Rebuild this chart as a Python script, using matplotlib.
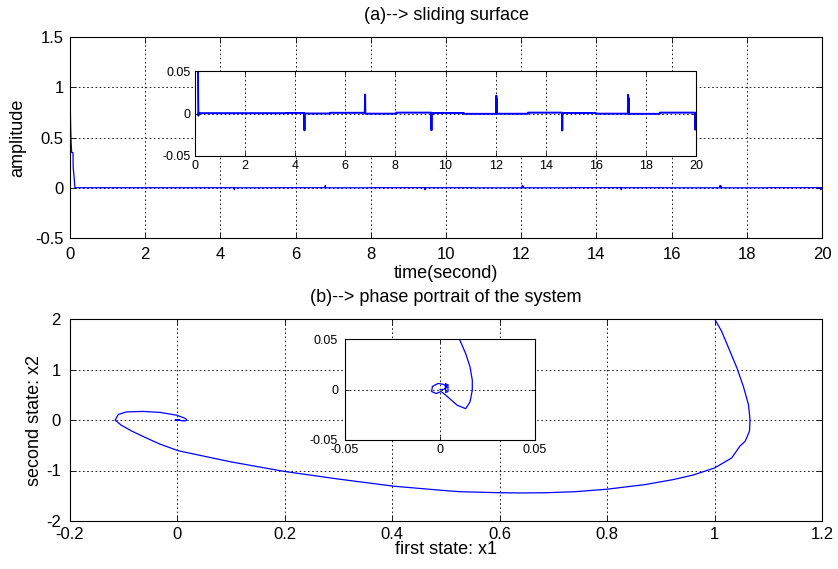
import matplotlib
matplotlib.use('Agg')
import matplotlib.pyplot as plt
from matplotlib.ticker import FuncFormatter

plt.rcParams['font.family'] = ['Liberation Sans', 'DejaVu Sans']
plt.rcParams['axes.unicode_minus'] = False

# ---- data: (a) sliding surface s(t) ----
t_s = [0.000, 0.005, 0.018, 0.030, 0.045, 0.080, 0.085, 0.110, 0.125, 0.135, 0.150,
       3.61, 3.62, 4.36, 4.37, 4.38, 5.39, 5.40, 6.78, 6.79, 6.80,
       8.03, 8.04, 9.43, 9.44, 9.45, 10.73, 10.74, 12.02, 12.03, 12.04, 12.05, 12.06,
       13.29, 13.30, 14.65, 14.66, 14.67, 15.99, 16.00, 17.28, 17.29, 17.30, 17.31, 17.32,
       18.55, 18.56, 19.96, 19.97, 19.98, 20.00]
s_vals = [1.29, 0.84, 0.60, 0.45, 0.35, 0.35, 0.20, 0.10, 0.02, -0.0025, 0.0004,
          0.0004, 0.0006, 0.0006, -0.0198, 0.0, 0.0, 0.0008, 0.0008, 0.0223, -0.0002,
          -0.0002, 0.0010, 0.0010, -0.0198, 0.0006, 0.0006, -0.0004, -0.0004, 0.021, 0.0, 0.017, -0.0003,
          -0.0003, 0.0010, 0.0010, -0.020, 0.0006, 0.0006, -0.0002, -0.0002, 0.022, 0.0, 0.018, -0.0004,
          -0.0004, 0.0010, 0.0010, -0.019, 0.0, 0.0]

# ---- data: (b) phase portrait x1 vs x2 ----
x1 = [1.000, 1.013, 1.026, 1.042, 1.054, 1.063, 1.066, 1.065, 1.057, 1.047, 1.032, 1.000,
      0.960, 0.923, 0.870, 0.800, 0.740, 0.687, 0.640, 0.600, 0.526, 0.489, 0.402, 0.300,
      0.200, 0.100, 0.002, -0.032, -0.057, -0.085, -0.105, -0.116, -0.110, -0.095, -0.064,
      -0.032, -0.001, 0.0102, 0.0135, 0.0158, 0.0170, 0.0170, 0.0158, 0.0135, 0.0090,
      0.0030, 0.0005, -0.0020, -0.0044, -0.0040, -0.0010, 0.0020, 0.0035, 0.0030, 0.0030,
      0.0042, 0.0042, 0.0020, 0.0]
x2 = [2.000, 1.76, 1.43, 1.02, 0.65, 0.31, 0.01, -0.22, -0.42, -0.52, -0.75, -0.95,
      -1.09, -1.18, -1.28, -1.37, -1.42, -1.44, -1.445, -1.44, -1.42, -1.39, -1.31, -1.17,
      -1.02, -0.83, -0.61, -0.48, -0.36, -0.22, -0.10, 0.0, 0.11, 0.16, 0.17,
      0.15, 0.094, 0.050, 0.0356, 0.0224, 0.0092, -0.0007, -0.0123, -0.0190, -0.0155,
      -0.0056, -0.0020, -0.0040, -0.0020, 0.0030, 0.0060, 0.0050, 0.0020, 0.0060, -0.0030,
      -0.0020, 0.0050, 0.0, 0.0]

# ---- tick values ----
a_xticks = [0, 2, 4, 6, 8, 10, 12, 14, 16, 18, 20]
a_yticks = [-0.5, 0, 0.5, 1, 1.5]
a_in_yticks = [-0.05, 0, 0.05]
b_xticks = [-0.2, 0, 0.2, 0.4, 0.6, 0.8, 1, 1.2]
b_yticks = [-2, -1, 0, 1, 2]
b_in_ticks = [-0.05, 0, 0.05]

W, H = 838, 569
fig = plt.figure(figsize=(W / 100, H / 100), dpi=100)


def rect(x0, y0, x1_, y1_):
    return [x0 / W, 1 - y1_ / H, (x1_ - x0) / W, (y1_ - y0) / H]


fmt = FuncFormatter(lambda v, p: ('%g' % round(v, 6)))


def style(ax, xt, yt, fs, xpad, ypad, tl=4):
    ax.set_xticks(xt)
    ax.set_yticks(yt)
    ax.xaxis.set_major_formatter(fmt)
    ax.yaxis.set_major_formatter(fmt)
    ax.tick_params(direction='in', top=True, right=True, length=tl, width=0.6,
                   labelsize=fs, colors='k')
    ax.tick_params(axis='x', pad=xpad)
    ax.tick_params(axis='y', pad=ypad)
    ax.grid(True, color='k', linestyle=(0, (2, 3)), linewidth=0.6)
    for sp in ax.spines.values():
        sp.set_linewidth(0.8)
        sp.set_color('k')


blue = '#0000ff'

# (a) main
axA = fig.add_axes(rect(70, 37, 822, 238))
axA.plot(t_s, s_vals, color=blue, lw=0.9)
axA.set_xlim(0, 20)
axA.set_ylim(-0.5, 1.5)
style(axA, a_xticks, a_yticks, 12, 6.5, 4.5)
axA.set_xlabel('time(second)', fontsize=13)
axA.xaxis.label.set_va('center')
axA.xaxis.set_label_coords(0.5, -(274 - 238) / 201)
axA.set_ylabel('amplitude', fontsize=13)
axA.yaxis.label.set_va('center')
axA.yaxis.set_label_coords((17.5 - 70) / 752, 0.5)

# (a) inset
axAi = fig.add_axes(rect(195, 71, 696, 156))
axAi.plot(t_s, s_vals, color=blue, lw=1.4)
axAi.set_xlim(0, 20)
axAi.set_ylim(-0.05, 0.05)
style(axAi, a_xticks, a_in_yticks, 9, 3, 3, tl=3)

# (b) main
axB = fig.add_axes(rect(70, 319, 822, 521))
axB.plot(x1, x2, color=blue, lw=0.9)
axB.set_xlim(-0.2, 1.2)
axB.set_ylim(-2, 2)
style(axB, b_xticks, b_yticks, 12, 4, 6.5)
axB.set_xlabel('first state: x1', fontsize=13)
axB.xaxis.label.set_va('center')
axB.xaxis.set_label_coords(0.5, -(550 - 521) / 202)
axB.set_ylabel('second state: x2', fontsize=13)
axB.yaxis.label.set_va('center')
axB.yaxis.set_label_coords((34.5 - 70) / 752, 0.5)

# (b) inset
axBi = fig.add_axes(rect(345, 339, 535, 440))
axBi.plot(x1, x2, color=blue, lw=0.9)
axBi.set_xlim(-0.05, 0.05)
axBi.set_ylim(-0.05, 0.05)
style(axBi, b_in_ticks, b_in_ticks, 9, 3, 5, tl=3)

# titles
fig.text(446 / W, 1 - 15 / H, '(a)--> sliding surface', ha='center', va='center', fontsize=13)
fig.text(446 / W, 1 - 297 / H, '(b)--> phase portrait of the system', ha='center', va='center',
         fontsize=13)

fig.savefig('out.png', dpi=100, facecolor='white')
